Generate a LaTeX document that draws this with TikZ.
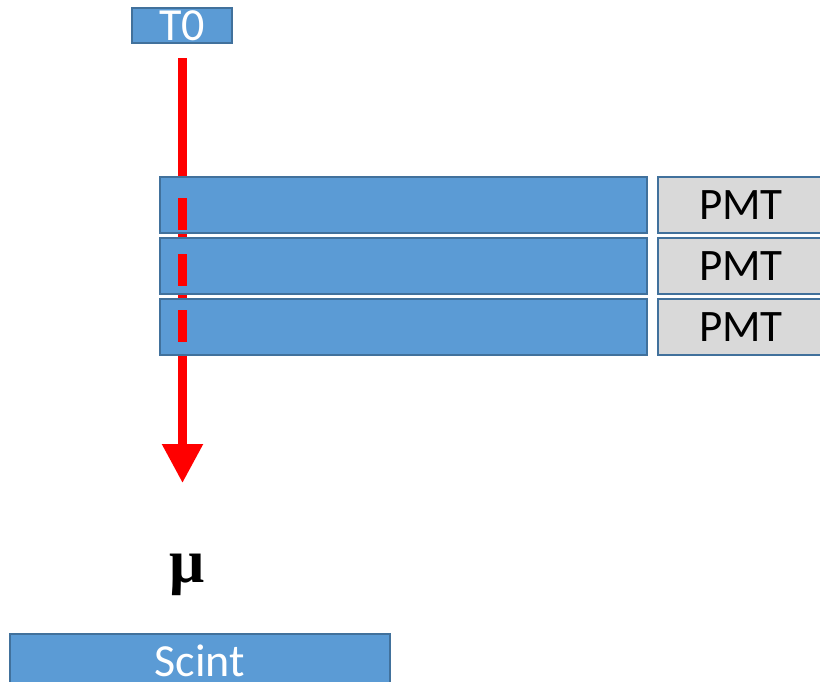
\documentclass[tikz,border=0pt]{standalone}
\usepackage{fontspec}
\setmainfont{Carlito}
\newfontfamily\mufont{Liberation Serif}
\usetikzlibrary{arrows.meta}
\definecolor{boxblue}{HTML}{5B9BD5}
\definecolor{edgeblue}{HTML}{41719C}
\definecolor{pmtgrey}{HTML}{D9D9D9}
\definecolor{beamred}{HTML}{FF0000}
\tikzset{
  bluebox/.style={draw=edgeblue, fill=boxblue, line width=2.2pt, inner sep=0pt,
    text=white, font=\fontsize{46}{55}\selectfont},
  pmtbox/.style={draw=edgeblue, fill=pmtgrey, line width=2.2pt, inner sep=0pt,
    text=black, font=\fontsize{45}{54}\selectfont,
    minimum width=166pt, minimum height=56pt},
  slab/.style={bluebox, minimum width=487pt, minimum height=56pt},
  beam/.style={draw=beamred, line width=8.5pt},
}
\begin{document}
\begin{tikzpicture}[x=1pt, y=-1pt]
  \useasboundingbox (0,0) rectangle (820,681);

  % start counter
  \node (t0) [bluebox, minimum width=100pt, minimum height=35pt] at (182,25.5) {T0};

  % muon track, passing behind the scintillator slabs
  \coordinate (trackstart) at (182.5,58);
  \coordinate (tracktip) at (182.5,483);
  \draw[beam, -{Triangle[width=39pt,length=39pt]}, beamred] (trackstart) -- (tracktip);

  % scintillator slabs with their photomultipliers
  \node (s1) [slab] at (403.5,205) {};
  \node (s2) [slab] at (403.5,266) {};
  \node (s3) [slab] at (403.5,327) {};
  \node (p1) [pmtbox] at (741,205) {PMT};
  \node (p2) [pmtbox] at (741,266) {PMT};
  \node (p3) [pmtbox] at (741,327) {PMT};

  % track segments seen through each slab
  \foreach \y in {198,254,310} {
    \draw[beam] (182.5,\y) -- (182.5,\y+32);
  }

  % particle label
  \node (mu) [font=\fontsize{62}{72}\selectfont\bfseries\mufont, anchor=base, inner sep=0pt] at (187,582) {μ};

  % bottom scintillator
  \node (scint) [bluebox, minimum width=380pt, anchor=north, text height=42pt, text depth=28pt]
    at (200,633) {Scint};
\end{tikzpicture}
\end{document}
